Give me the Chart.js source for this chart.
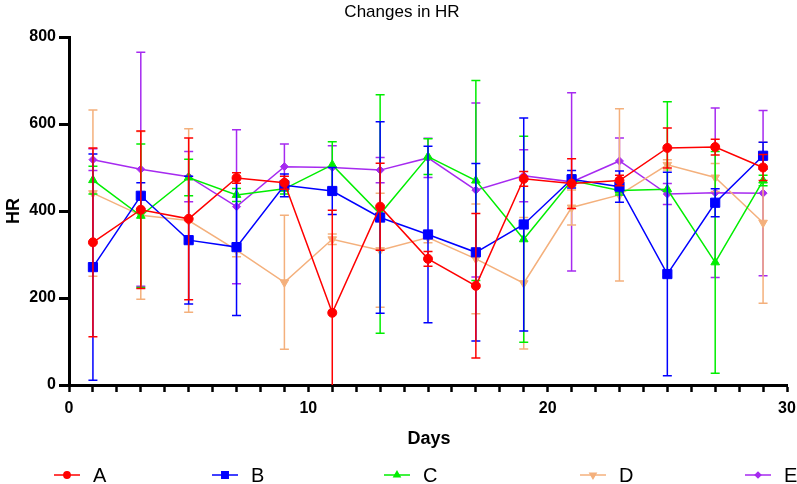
<!DOCTYPE html>
<html>
<head>
<meta charset="utf-8">
<script src="https://cdn.jsdelivr.net/npm/chart.js@4/dist/chart.umd.min.js"></script>
<style>
  html, body { margin: 0; padding: 0; background: #fff; }
  #hrChart { display: block; }
</style>
</head>
<body>
<canvas id="hrChart" width="797" height="484"></canvas>
<script>
// Jours de mesure
const days = [1, 3, 5, 7, 9, 11, 13, 15, 17, 19, 21, 23, 25, 27, 29];

// Moyennes et écarts
const seriesA = [328, 403, 382, 476, 465, 166, 410, 290, 228, 474, 463, 470, 545, 547, 500];
const errorsA = [217, 181, 186, 12, 15, 236, 100, 17, 166, 17, 57, 12, 46, 18, 30];

const seriesB = [271, 435, 333, 317, 459, 446, 385, 346, 305, 369, 473, 456, 255, 419, 527];
const errorsB = [260, 30, 147, 157, 26, 54, 220, 203, 204, 245, 20, 36, 234, 32, 31];

const seriesC = [471, 389, 477, 437, 451, 506, 393, 525, 470, 335, 470, 447, 450, 282, 470];
const errorsC = [32, 165, 42, 15, 12, 53, 274, 41, 230, 237, 12, 10, 201, 255, 12];

const seriesD = [441, 390, 378, 310, 236, 335, 310, 339, 290, 234, 408, 437, 506, 477, 373];
const errorsD = [191, 193, 211, 15, 154, 12, 131, 12, 126, 151, 40, 198, 12, 32, 185];

const seriesE = [518, 496, 479, 410, 502, 500, 494, 522, 448, 481, 467, 515, 439, 442, 441];
const errorsE = [25, 269, 58, 177, 52, 50, 29, 45, 200, 60, 205, 53, 24, 195, 190];

const labels = ['A', 'B', 'C', 'D', 'E'];
const yTicks = [0, 200, 400, 600, 800];

const FONT = "'Liberation Sans', Arial, sans-serif";

function makeDataset(label, values, errors, color, style, radius, rotation) {
  return {
    label: label,
    data: values.map((v, i) => ({ x: days[i], y: v })),
    errors: errors,
    borderColor: color,
    backgroundColor: color,
    borderWidth: 1.5,
    pointStyle: style,
    pointRadius: radius,
    pointHoverRadius: radius,
    pointRotation: rotation || 0,
    pointBorderWidth: 1,
    tension: 0,
    fill: false
  };
}

const datasets = [
  makeDataset(labels[0], seriesA, errorsA, '#FF0000', 'circle', 4.5),
  makeDataset(labels[1], seriesB, errorsB, '#0000FF', 'rect', 6.5),
  makeDataset(labels[2], seriesC, errorsC, '#00EE00', 'triangle', 5),
  makeDataset(labels[3], seriesD, errorsD, '#F4B07C', 'triangle', 5, 180),
  makeDataset(labels[4], seriesE, errorsE, '#A62AF0', 'rectRot', 4)
];

// Barres d'erreur dessinées sous chaque série
const errorBars = {
  id: 'errorBars',
  beforeDatasetDraw(chart, args) {
    const ds = chart.data.datasets[args.index];
    const yScale = chart.scales.y;
    const area = chart.chartArea;
    const ctx = chart.ctx;
    ctx.save();
    ctx.beginPath();
    ctx.rect(area.left, 0, area.right - area.left + 10, area.bottom);
    ctx.clip();
    ctx.strokeStyle = ds.borderColor;
    ctx.lineWidth = 1.5;
    args.meta.data.forEach((pt, i) => {
      const v = ds.data[i].y;
      const e = ds.errors[i];
      const top = yScale.getPixelForValue(v + e);
      const bot = yScale.getPixelForValue(v - e);
      ctx.beginPath();
      ctx.moveTo(pt.x, top);
      ctx.lineTo(pt.x, bot);
      ctx.moveTo(pt.x - 4.5, top);
      ctx.lineTo(pt.x + 4.5, top);
      ctx.moveTo(pt.x - 4.5, bot);
      ctx.lineTo(pt.x + 4.5, bot);
      ctx.stroke();
    });
    ctx.restore();
  }
};

// Titre, titres d'axes et légende
const legendX = [54, 212, 384, 580, 745];
const texts = {
  id: 'texts',
  afterDraw(chart) {
    const ctx = chart.ctx;
    ctx.save();
    ctx.fillStyle = '#000';
    ctx.textAlign = 'center';
    ctx.textBaseline = 'middle';

    ctx.font = '17px ' + FONT;
    ctx.fillText('Changes in HR', 402, 12);

    ctx.font = 'bold 18px ' + FONT;
    ctx.fillText('Days', 429, 439);

    ctx.save();
    ctx.translate(14, 211);
    ctx.rotate(-Math.PI / 2);
    ctx.fillText('HR', 0, 0);
    ctx.restore();

    chart.data.datasets.forEach((ds, i) => {
      const x0 = legendX[i];
      const y = 475;
      ctx.strokeStyle = ds.borderColor;
      ctx.lineWidth = 1.5;
      ctx.beginPath();
      ctx.moveTo(x0, y);
      ctx.lineTo(x0 + 26, y);
      ctx.stroke();
      ctx.fillStyle = ds.backgroundColor;
      Chart.helpers.drawPoint(ctx, {
        pointStyle: ds.pointStyle,
        radius: ds.pointRadius * 0.7,
        rotation: ds.pointRotation,
        borderWidth: 1
      }, x0 + 13, y);
      ctx.fillStyle = '#000';
      ctx.textAlign = 'left';
      ctx.font = '20px ' + FONT;
      ctx.fillText(ds.label, x0 + 39, y + 1);
    });
    ctx.restore();
  }
};

const ctx = document.getElementById('hrChart').getContext('2d');
new Chart(ctx, {
  type: 'line',
  data: { datasets: datasets },
  plugins: [errorBars, texts],
  options: {
    responsive: false,
    animation: false,
    layout: { padding: { top: 37, right: 10, left: 0, bottom: 0 } },
    plugins: {
      legend: { display: false },
      title: { display: false },
      tooltip: { enabled: false }
    },
    scales: {
      x: {
        type: 'linear',
        min: 0,
        max: 30,
        afterFit: scale => {
          scale.height = 99;
          scale.paddingLeft = 0;
          scale.paddingRight = 0;
        },
        ticks: {
          stepSize: 1,
          autoSkip: false,
          maxRotation: 0,
          padding: 7,
          color: '#000',
          font: { family: FONT, size: 16, weight: 'bold' },
          callback: v => (v % 10 === 0 ? v : '')
        },
        grid: {
          drawOnChartArea: false,
          drawTicks: true,
          tickLength: 7,
          tickWidth: 2.5,
          tickColor: '#000'
        },
        border: { color: '#000', width: 3 }
      },
      y: {
        min: 0,
        max: 800,
        afterFit: scale => { scale.width = 69; },
        afterBuildTicks: scale => { scale.ticks = yTicks.map(v => ({ value: v })); },
        ticks: {
          padding: 3,
          color: '#000',
          font: { family: FONT, size: 16, weight: 'bold' }
        },
        grid: {
          drawOnChartArea: false,
          drawTicks: true,
          tickLength: 10,
          tickWidth: 3,
          tickColor: '#000'
        },
        border: { color: '#000', width: 3 }
      }
    }
  }
});
</script>
</body>
</html>
